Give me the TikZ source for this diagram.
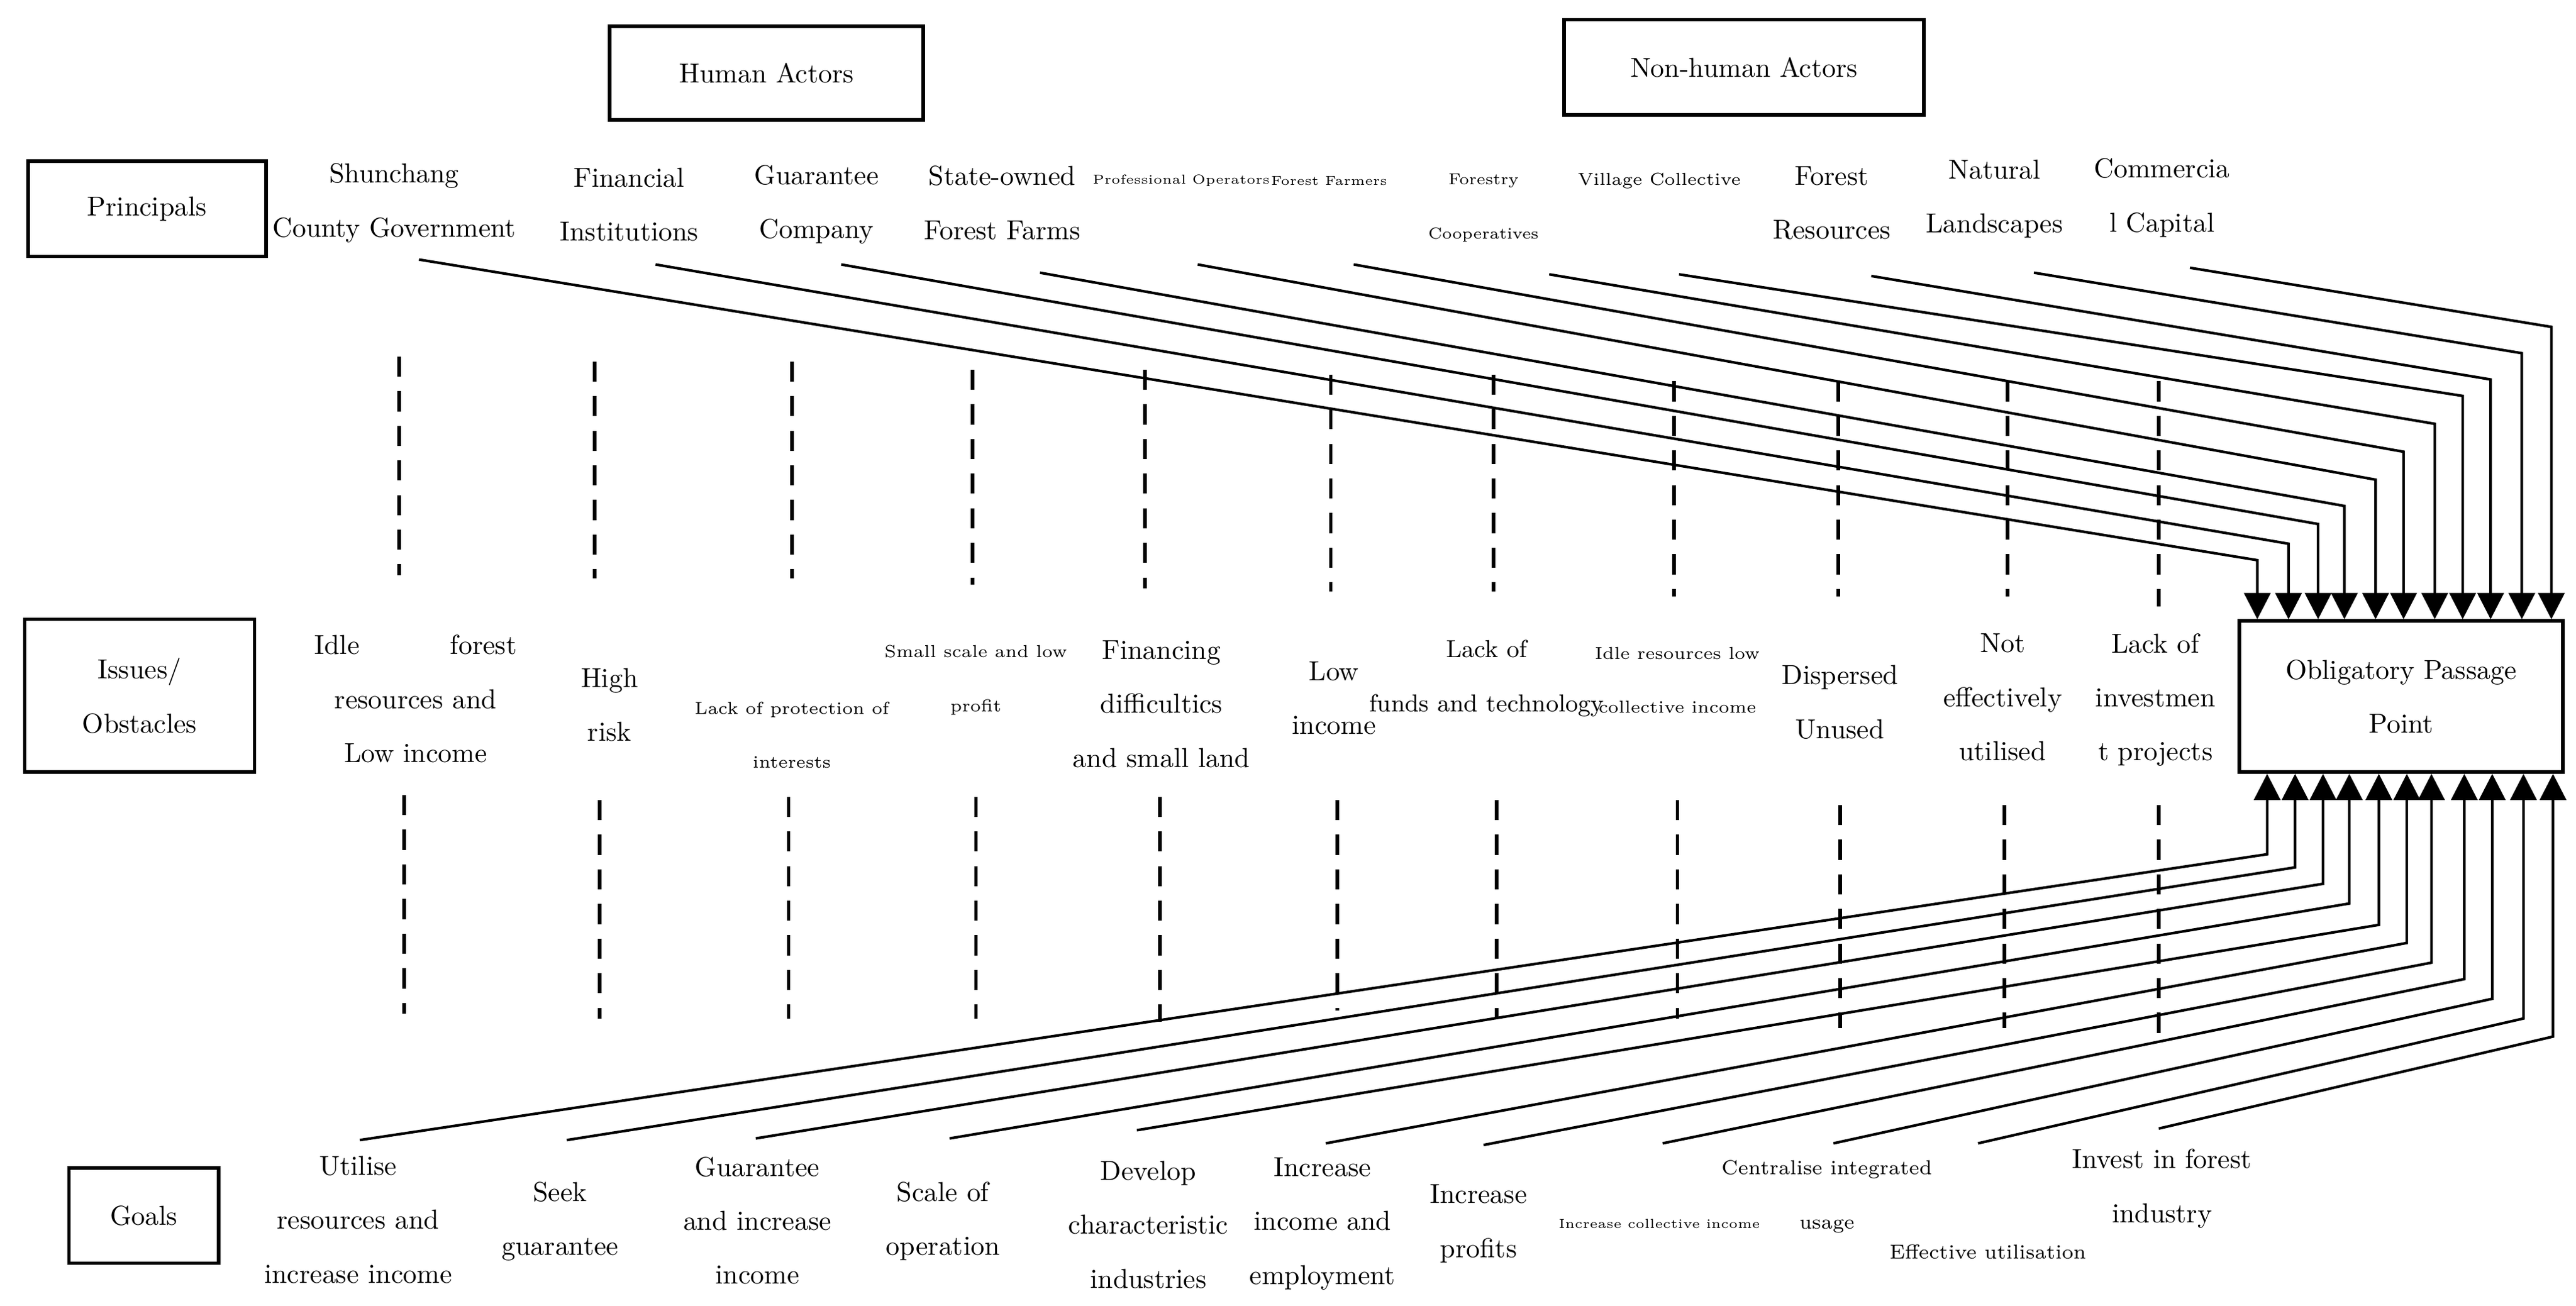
\documentclass[tikz,border=0pt]{standalone}
\usetikzlibrary{arrows.meta}
\begin{document}
\begin{tikzpicture}[x=0.02cm,y=-0.02cm,
  box/.style={draw,line width=1.2pt,inner sep=0pt,align=center,font=\fontsize{9.5}{18.7}\selectfont},
  t/.style={inner sep=0pt,align=center,font=\fontsize{9.5}{18.7}\selectfont},
  s/.style={inner sep=0pt,align=center,font=\fontsize{6}{18.7}\selectfont},
  xs/.style={inner sep=0pt,align=center,font=\fontsize{4.5}{18.7}\selectfont},
  m/.style={inner sep=0pt,align=center,font=\fontsize{7}{18.7}\selectfont},
  dl/.style={line width=1.2pt,dash pattern=on 7pt off 5pt},
  arr/.style={line width=0.9pt,-{Triangle[length=0.32cm,width=0.32cm]}}]
\useasboundingbox (0,0) rectangle (1568,795);
% boxes
\node[box,minimum width=3.82cm,minimum height=1.14cm] (human) at (466.5,44.5) {Human Actors};
\node[box,minimum width=4.38cm,minimum height=1.16cm] (nonhuman) at (1061.5,41) {Non-human Actors};
\node[box,minimum width=2.9cm,minimum height=1.16cm] (principals) at (89.5,127) {Principals};
\node[box,minimum width=2.8cm,minimum height=1.86cm] (issues) at (85,423.5) {Issues/\\Obstacles};
\node[box,minimum width=1.82cm,minimum height=1.16cm] (goals) at (87.5,740) {Goals};
\node[box,minimum width=3.94cm,minimum height=1.84cm] (opp) at (1461.5,424) {Obligatory Passage\\Point};
% principals
\node[t] (p1) at (240,123.5) {Shunchang\\County Government};
\node[t] (p2) at (383,124.5) {Financial\\Institutions};
\node[t] (p3) at (497,124.5) {Guarantee\\Company};
\node[t] (p4) at (610,123.5) {State-owned\\Forest Farms};
\node[xs] (p5) at (719,110) {Professional Operators};
\node[xs] (p6) at (809,110) {Forest Farmers};
\node[s,font=\fontsize{5.5}{18.7}\selectfont] (p7) at (903,126.5) {Forestry\\Cooperatives};
\node[s] (p8) at (1010,110) {Village Collective};
\node[t] (p9) at (1115,123.5) {Forest\\Resources};
\node[t] (p10) at (1214,121) {Natural\\Landscapes};
\node[t] (p11) at (1316,120.5) {Commercia\\l Capital};
% issues
\node[t] (i1) at (253,425.5) {\makebox[2.46cm]{Idle\hfill forest}\\resources and\\Low income};
\node[t] (i2) at (371,429) {High\\risk};
\node[s] (i3) at (482,447.5) {Lack of protection of\\interests};
\node[s] (i4) at (594,414) {Small scale and low\\profit};
\node[t] (i5) at (707,428.5) {Financing\\difficultics\\and small land};
\node[t] (i6) at (812,425) {Low\\income};
\node[t,font=\fontsize{8.5}{18.7}\selectfont] (i7) at (905,413) {Lack of\\funds and technology};
\node[s] (i8) at (1021,414) {Idle resources low\\collective income};
\node[t] (i9) at (1120,427.5) {Dispersed\\Unused};
\node[t] (i10) at (1219,424.5) {Not\\effectively\\utilised};
\node[t] (i11) at (1312,426) {Lack of\\investmen\\t projects};
% goals
\node[t] (g1) at (218,742.5) {Utilise\\resources and\\increase income};
\node[t] (g2) at (341,743.5) {Seek\\guarantee};
\node[t] (g3) at (461,743) {Guarantee\\and increase\\income};
\node[t] (g4) at (574,743.5) {Scale of\\operation};
\node[t] (g5) at (699,745.5) {Develop\\characteristic\\industries};
\node[t] (g6) at (805,745) {Increase\\income and\\employment};
\node[t] (g7) at (900,745) {Increase\\profits};
\node[xs] (g8) at (1010,745) {Increase collective income};
\node[m] (g9) at (1112,728.5) {Centralise integrated\\usage};
\node[m] (g10) at (1210,762) {Effective utilisation};
\node[t] (g11) at (1316,723.5) {Invest in forest\\industry};
% dashed lines upper
\foreach \x/\a/\b [count=\i] in {243/217/350,362/220/352,482/220/352,592/225/356,697/225/358,810/228/360,909/228/360,1019/232/363,1119/232/363,1222/232/363,1314/232/369}
  {\coordinate (ua\i) at (\x,\a); \coordinate (ub\i) at (\x,\b); \draw[dl] (ua\i) -- (ub\i);}
% dashed lines lower
\foreach \x/\a/\b [count=\i] in {246/484/617,365/487/620,480/485/620,594/485/620,706/485/622,814/487/615,911/487/620,1021/487/620,1120/490/626,1220/490/626,1314/490/630}
  {\coordinate (la\i) at (\x,\a); \coordinate (lb\i) at (\x,\b); \draw[dl] (la\i) -- (lb\i);}
% arrows from principals
\foreach \sx/\sy/\bx/\by [count=\i] in {255/158/1374/341,399/161/1393/331,512/161/1411/319,633/166/1427/308,729/161/1446/292,824/161/1463/275,943/167/1482/258,1022/167/1499/241,1139/168/1516/231,1238/166/1535/215,1333/163/1553/199}
  {\coordinate (ps\i) at (\sx,\sy); \coordinate (pb\i) at (\bx,\by);
   \draw[arr] (ps\i) -- (pb\i) -- (pb\i |- opp.north);}
% arrows from goals
\foreach \sx/\sy/\bx/\by [count=\i] in {219/694/1380/520,345/694/1397/528,460/693/1414/538,578/693/1430/550,692/688/1448/563,807/696/1465/574,903/697/1480/586,1012/696/1500/596,1116/696/1517/608,1204/696/1536/620,1314/687/1554/631}
  {\coordinate (gs\i) at (\sx,\sy); \coordinate (gb\i) at (\bx,\by);
   \draw[arr] (gs\i) -- (gb\i) -- (gb\i |- opp.south);}
\end{tikzpicture}
\end{document}
